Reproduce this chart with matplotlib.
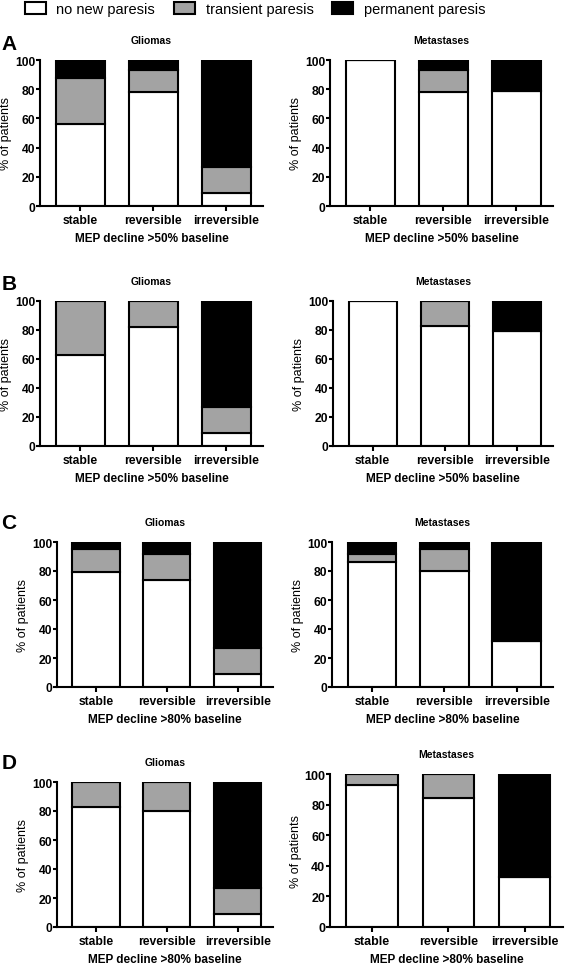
import matplotlib
matplotlib.use("Agg")
import matplotlib.pyplot as plt
from matplotlib.patches import Patch

plt.rcParams['font.family'] = ['Liberation Sans', 'DejaVu Sans']

# categories and stack labels
categories = ["stable", "reversible", "irreversible"]
series_names = ["no new paresis", "transient paresis", "permanent paresis"]
colors = ["white", "#a3a3a3", "black"]

# % of patients per panel: (no new, transient, permanent)
a_gliomas = ([56, 78, 9], [32, 15, 18], [12, 7, 73])
a_metast = ([100, 78, 79], [0, 15, 0], [0, 7, 21])
b_gliomas = ([63, 82, 9], [37, 18, 18], [0, 0, 73])
b_metast = ([100, 83, 79], [0, 17, 0], [0, 0, 21])
c_gliomas = ([79, 74, 9], [16, 18, 18], [5, 8, 73])
c_metast = ([86, 80, 32], [6, 15, 0], [8, 5, 68])
d_gliomas = ([83, 80, 9], [17, 20, 18], [0, 0, 73])
d_metast = ([93, 84, 33], [7, 16, 0], [0, 0, 67])

xlabels = ["MEP decline >50% baseline", "MEP decline >50% baseline",
           "MEP decline >80% baseline", "MEP decline >80% baseline"]
panel_letters = ["A", "B", "C", "D"]

W, H = 567, 970
fig = plt.figure(figsize=(W / 100, H / 100), dpi=100)


def box(x0, x1, top, bottom):
    # pixel box -> figure fraction rect
    return [x0 / W, 1 - bottom / H, (x1 - x0) / W, (bottom - top) / H]


# axes positions in pixels (left, right, top, bottom)
layout = [
    [(40, 263, 61, 207), (330, 553, 61, 207)],
    [(40, 263, 302, 447), (333, 553, 302, 447)],
    [(57, 273, 543, 688), (332, 553, 543, 688)],
    [(57, 273, 783, 928), (330, 563, 775, 928)],
]
data = [(a_gliomas, a_metast), (b_gliomas, b_metast),
        (c_gliomas, c_metast), (d_gliomas, d_metast)]
letter_y = [45, 285, 524, 764]


def draw_panel(ax, stacks, title, xlabel, wpx, fs=8.7):
    x = list(range(len(categories)))
    bottom = [0] * len(categories)
    for vals, col in zip(stacks, colors):
        ax.bar(x, vals, width=0.67, bottom=bottom, color=col,
               edgecolor="black", linewidth=1.5, zorder=2)
        bottom = [b + v for b, v in zip(bottom, vals)]
    ax.set_xlim(-0.55, 2.5)
    ax.set_ylim(0, 100)
    ax.set_yticks([0, 20, 40, 60, 80, 100])
    ax.set_xticks(x)
    ax.set_xticklabels(categories)
    for s in ["top", "right"]:
        ax.spines[s].set_visible(False)
    for s in ["left", "bottom"]:
        ax.spines[s].set_linewidth(1.5)
    ax.tick_params(axis="x", width=1.5, length=3.5, pad=2.5, labelsize=fs)
    ax.tick_params(axis="y", width=1.5, length=3, pad=0.5, labelsize=fs)
    for lab in ax.get_xticklabels() + ax.get_yticklabels():
        lab.set_fontweight("bold")
    ax.set_title(title, fontsize=7.5, fontweight="bold", pad=12)
    ax.set_xlabel(xlabel, fontsize=8.5, fontweight="bold", labelpad=4)
    ax.set_ylabel("% of patients", fontsize=9)
    ax.yaxis.set_label_coords(-28 / wpx, 0.5)


for i in range(4):
    for j in range(2):
        l, r, t, b = layout[i][j]
        ax = fig.add_axes(box(l, r, t, b))
        fs = 9 if (i == 3 and j == 1) else 8.7
        draw_panel(ax, data[i][j], "Gliomas" if j == 0 else "Metastases",
                   xlabels[i], r - l, fs)
    fig.text(9 / W, 1 - letter_y[i] / H, panel_letters[i], fontsize=15,
             fontweight="bold", ha="center", va="center")

handles = [Patch(facecolor=c, edgecolor="black", linewidth=1.5) for c in colors]
fig.legend(handles, series_names, loc="center", ncol=3,
           bbox_to_anchor=(0.45, 1 - 10 / H), frameon=False, fontsize=10.5,
           handlelength=1.4, handleheight=0.85, handletextpad=0.75,
           columnspacing=1.3, borderaxespad=0)

fig.savefig("out.png", dpi=100)
